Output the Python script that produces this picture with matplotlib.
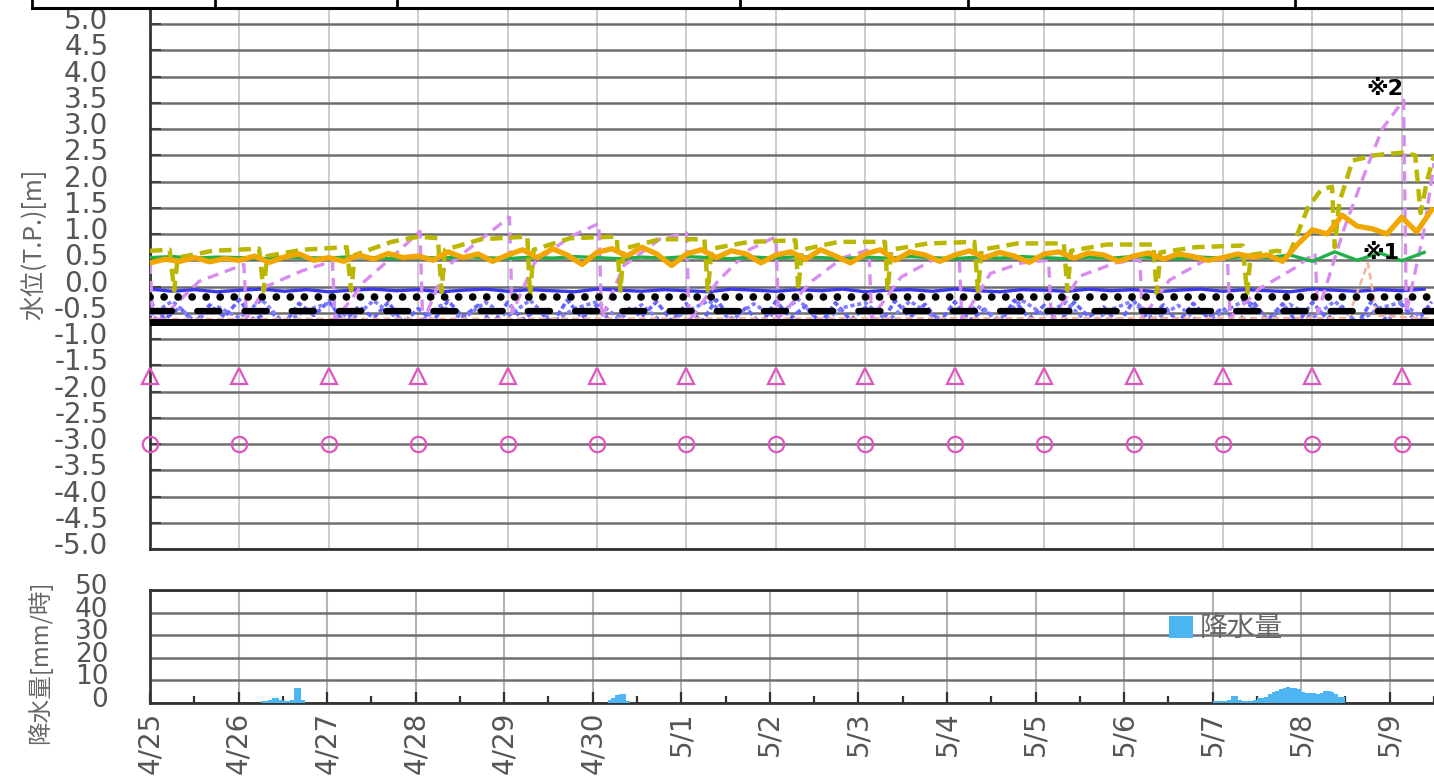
import numpy as np
import matplotlib
matplotlib.use('Agg')
import matplotlib.pyplot as plt
from matplotlib.lines import Line2D
import matplotlib.transforms as mtransforms

plt.rcParams['font.family'] = ['DejaVu Sans', 'Noto Sans CJK JP']
plt.rcParams['axes.unicode_minus'] = False
plt.rcParams['lines.scale_dashes'] = False
CJK = ['Noto Sans CJK JP', 'DejaVu Sans']

# x axis: days since 4/25 0:00
date_labels = ['4/25', '4/26', '4/27', '4/28', '4/29', '4/30', '5/1', '5/2',
               '5/3', '5/4', '5/5', '5/6', '5/7', '5/8', '5/9']
x_end = 14.36

# flat reference levels [m]
level_solid = -0.68
level_dashed = -0.47
level_dotted = -0.2
triangle_level = -1.7
circle_level = -3.0

# orange water level, every 4 hours
orange_v = [0.45, 0.52, 0.48, 0.55, 0.47, 0.53,
            0.50, 0.58, 0.46, 0.56, 0.62, 0.50,
            0.55, 0.48, 0.60, 0.52, 0.63, 0.55,
            0.58, 0.50, 0.66, 0.55, 0.62, 0.48,
            0.60, 0.70, 0.55, 0.72, 0.60, 0.42,
            0.65, 0.72, 0.58, 0.75, 0.62, 0.40,
            0.62, 0.70, 0.55, 0.68, 0.62, 0.45,
            0.60, 0.66, 0.52, 0.70, 0.58, 0.45,
            0.62, 0.70, 0.50, 0.66, 0.60, 0.48,
            0.60, 0.68, 0.55, 0.65, 0.58, 0.46,
            0.62, 0.66, 0.54, 0.64, 0.60, 0.48,
            0.58, 0.64, 0.52, 0.62, 0.57, 0.50,
            0.55, 0.62, 0.56, 0.60, 0.48, 0.80,
            1.08, 1.00, 1.36, 1.15, 1.10, 1.00,
            1.32, 1.04, 1.46]

# green water level, every 6 hours
green_v = [0.55, 0.57, 0.54, 0.56, 0.55, 0.53, 0.56, 0.55, 0.54, 0.57, 0.55, 0.53,
           0.56, 0.54, 0.57, 0.55, 0.53, 0.56, 0.54, 0.57, 0.55, 0.53, 0.56, 0.54,
           0.57, 0.55, 0.53, 0.56, 0.54, 0.57, 0.55, 0.53, 0.56, 0.54, 0.57, 0.55,
           0.53, 0.56, 0.54, 0.57, 0.55, 0.53, 0.56, 0.54, 0.57, 0.55, 0.53, 0.56,
           0.54, 0.57, 0.55, 0.60, 0.48, 0.66, 0.50, 0.64, 0.49, 0.65]

# blue water level, every 6 hours
blue_v = [-0.05, -0.09, -0.06, -0.10, -0.07, -0.05, -0.09, -0.06, -0.10, -0.07,
          -0.05, -0.08, -0.06, -0.10, -0.07, -0.05, -0.09, -0.06, -0.08, -0.10,
          -0.05, -0.07, -0.09, -0.06, -0.08, -0.10, -0.05, -0.07, -0.09, -0.06,
          -0.08, -0.05, -0.10, -0.07, -0.06, -0.09, -0.05, -0.08, -0.10, -0.06,
          -0.07, -0.09, -0.05, -0.08, -0.06, -0.10, -0.07, -0.05, -0.09, -0.06,
          -0.08, -0.10, -0.05, -0.07, -0.09, -0.06, -0.08, -0.05]

# light blue noisy levels (every 4 hours / every 6 hours)
lblue_v = [-0.30, -0.62, -0.40, -0.70, -0.35, -0.58,
           -0.25, -0.65, -0.45, -0.72, -0.32, -0.55,
           -0.28, -0.68, -0.38, -0.60, -0.30, -0.70,
           -0.42, -0.66, -0.27, -0.58, -0.36, -0.72,
           -0.30, -0.63, -0.44, -0.70, -0.26, -0.60,
           -0.35, -0.71, -0.40, -0.57, -0.29, -0.66,
           -0.33, -0.69, -0.25, -0.62, -0.41, -0.72,
           -0.28, -0.60, -0.37, -0.70, -0.31, -0.64,
           -0.40, -0.72, -0.27, -0.59, -0.34, -0.68,
           -0.29, -0.65, -0.43, -0.71, -0.26, -0.61,
           -0.36, -0.70, -0.30, -0.58, -0.39, -0.72,
           -0.27, -0.63, -0.35, -0.69, -0.32, -0.60,
           -0.41, -0.71, -0.28, -0.64, -0.33, -0.70,
           -0.30, -0.62, -0.38, -0.72, -0.27, -0.66,
           -0.34, -0.69, -0.29]
lblue2_v = [-0.55, -0.28, -0.66, -0.38, -0.60, -0.25, -0.70, -0.45, -0.32, -0.64,
            -0.27, -0.58, -0.71, -0.36, -0.62, -0.30, -0.57, -0.26, -0.68, -0.42,
            -0.29, -0.61, -0.35, -0.72, -0.48, -0.27, -0.65, -0.33, -0.59, -0.24,
            -0.70, -0.40, -0.31, -0.66, -0.28, -0.56, -0.69, -0.37, -0.63, -0.26,
            -0.54, -0.30, -0.71, -0.44, -0.27, -0.62, -0.36, -0.70, -0.50, -0.25,
            -0.66, -0.34, -0.60, -0.28, -0.69, -0.41, -0.30, -0.64]

# olive dashed level (daily drops)
olive_t = [0.0, 0.22, 0.27, 0.31, 0.7, 1.22, 1.27, 1.31, 1.7, 2.2, 2.25, 2.29, 2.7,
           3.0, 3.22, 3.26, 3.3, 3.7, 4.22, 4.25, 4.29, 4.7, 5.22, 5.26, 5.3, 5.7,
           6.2, 6.24, 6.28, 6.7, 7.22, 7.25, 7.29, 7.7, 8.22, 8.25, 8.29, 8.7,
           9.22, 9.26, 9.3, 9.7, 10.22, 10.26, 10.3, 10.7, 11.22, 11.26, 11.3, 11.7,
           12.22, 12.27, 12.31, 12.6, 12.75, 12.95, 13.1, 13.22, 13.25, 13.3, 13.45,
           13.7, 14.0, 14.15, 14.21, 14.28, 14.36]
olive_v = [0.68, 0.70, -0.08, 0.55, 0.68, 0.72, -0.08, 0.58, 0.70, 0.75, -0.08, 0.60, 0.85,
           0.95, 0.92, -0.10, 0.70, 0.90, 0.95, -0.20, 0.70, 0.92, 0.95, -0.08, 0.72, 0.90,
           0.90, -0.08, 0.72, 0.85, 0.88, -0.07, 0.70, 0.85, 0.85, -0.08, 0.70, 0.82,
           0.85, -0.08, 0.70, 0.82, 0.82, -0.08, 0.68, 0.80, 0.80, -0.13, 0.65, 0.75,
           0.78, -0.13, 0.60, 0.68, 0.65, 1.50, 1.85, 1.90, 0.75, 1.60, 2.40,
           2.50, 2.55, 2.50, 1.40, 2.00, 2.50]

# violet dashed level (sawtooth)
violet_t = [0.0, 0.03, 0.1, 0.55, 1.05, 1.08, 1.3, 1.7, 2.04, 2.07, 2.4, 2.7,
            3.02, 3.05, 3.3, 3.7, 4.02, 4.05, 4.3, 4.7, 5.02, 5.05, 5.3, 5.7,
            6.0, 6.03, 6.35, 6.7, 7.0, 7.03, 7.4, 7.75, 8.04, 8.07, 8.4, 8.75,
            9.05, 9.08, 9.4, 9.75, 10.05, 10.08, 10.4, 10.8, 11.07, 11.1, 11.4, 11.8,
            12.05, 12.08, 12.4, 12.8, 13.03, 13.06, 13.35, 13.55, 13.78, 14.02,
            14.05, 14.25, 14.36]
violet_v = [0.45, -0.55, -0.65, 0.10, 0.42, -0.60, 0.00, 0.30, 0.48, -0.65, 0.10, 0.55,
            1.05, -0.70, 0.35, 0.90, 1.32, -0.50, 0.45, 0.95, 1.20, -0.60, 0.40, 0.90,
            1.02, -0.65, 0.10, 0.70, 0.95, -0.60, 0.10, 0.55, 0.70, -0.60, 0.18, 0.50,
            0.58, -0.65, 0.25, 0.45, 0.50, -0.65, 0.20, 0.45, 0.52, -0.60, 0.12, 0.50,
            0.52, -0.60, -0.05, 0.35, 0.64, -0.50, 1.08, 2.00, 3.00, 3.55,
            -0.50, 1.08, 2.35]

# pale salmon level
salmon_t = [0.0, 13.4, 13.62, 13.72, 14.36]
salmon_v = [-0.62, -0.60, 0.45, -0.55, -0.62]

# rainfall [mm/h], hourly, segments starting at given hour since 4/25 0:00
rain_start_hours = [30, 124, 288]
rain_segments = [
    [1, 1, 1.5, 2, 2, 1.5, 1, 1, 1.5, 6.5, 6.5, 1.5],
    [1.5, 2, 3.5, 4, 4, 1],
    [1, 1, 1, 1, 1.5, 3, 3, 1.5, 1, 1, 1, 1.5, 2, 2, 2.5, 4, 5, 5.5, 6, 6.5,
     7, 6.5, 6.5, 6, 5, 4.5, 4.5, 4.5, 4.2, 4.5, 5.3, 5.3, 5, 4, 2.6, 2.6],
]

W, H = 1434, 778
fig = plt.figure(figsize=(W / 100, H / 100), dpi=100)
ax = fig.add_axes([150 / W, 1 - 549 / H, 1 - 150 / W, 540 / H])
ax2 = fig.add_axes([150 / W, 1 - 703 / H, 1 - 150 / W, 113 / H])

tick_color = '#555555'
days = np.arange(len(date_labels))

# ---- water level panel ----
ax.plot(np.arange(len(lblue_v)) / 6, lblue_v, color='#6464ff', lw=2.6,
        dashes=(4, 2), zorder=3)
ax.plot(np.arange(len(lblue2_v)) / 4, lblue2_v, color='#8080ff', lw=2.6,
        dashes=(3, 2), zorder=3)
ax.plot(np.arange(len(blue_v)) / 4, blue_v, color='#3a3ae8', lw=2.4, zorder=3)
ax.plot(salmon_t, salmon_v, color='#f5b4a0', lw=1.8, dashes=(5, 3), zorder=3)
ax.plot(violet_t, violet_v, color='#d98cf0', lw=2.4, dashes=(8, 5), zorder=4)
ax.plot(np.arange(len(green_v)) / 4, green_v, color='#20b048', lw=2.4, zorder=4)
ax.plot(olive_t, olive_v, color='#b9b700', lw=3.2, dashes=(9, 5), zorder=5)
ax.plot(np.arange(len(orange_v)) / 6, orange_v, color='#f2a600', lw=3.8, zorder=6)
ax.axhline(level_solid, color='black', lw=5, zorder=7)
ax.axhline(level_dashed, color='black', lw=4.5, dashes=(16, 18),
           dash_capstyle='round', zorder=7)
ax.axhline(level_dotted, color='black', lw=5.5, dashes=(0.1, 10),
           dash_capstyle='round', zorder=7)
ax.plot(days, [triangle_level] * len(days), ls='none', marker='^', ms=11,
        mfc='none', mec='#e055c0', mew=1.6, clip_on=False, zorder=8)
ax.plot(days, [circle_level] * len(days), ls='none', marker='o', ms=11,
        mfc='none', mec='#e055c0', mew=1.6, clip_on=False, zorder=8)

NOTE_FONT = ['DejaVu Sans', 'Noto Sans CJK JP']
ax.text(13.81, 3.76, '※2', fontsize=16, fontweight='bold', family=NOTE_FONT,
        ha='center', va='center', zorder=9)
ax.text(13.77, 0.64, '※1', fontsize=16, fontweight='bold', family=NOTE_FONT,
        ha='center', va='center', zorder=9)

ax.set_xlim(0, x_end)
ax.set_ylim(-5, 5.286)
ax.set_xticks(days)
ax.set_yticks(np.arange(-5, 5.01, 0.5))
ax.set_yticklabels([f'{v:.1f}' for v in np.arange(-5, 5.01, 0.5)])
ax.tick_params(axis='x', length=0, labelbottom=False)
ax.tick_params(axis='y', direction='in', length=8, width=1.5, color='#444444',
               pad=30, labelsize=20, labelcolor=tick_color)
ax.grid(axis='y', color='#6e6e6e', lw=1.8)
ax.grid(axis='x', color='#cccccc', lw=1.4)
ax.set_axisbelow(True)
for s in ['top', 'right']:
    ax.spines[s].set_visible(False)
for s in ['left', 'bottom']:
    ax.spines[s].set_color('#333333')
    ax.spines[s].set_linewidth(2)

# ---- rainfall panel ----
for start, seg in zip(rain_start_hours, rain_segments):
    hrs = (start + np.arange(len(seg))) / 24
    ax2.bar(hrs, seg, width=1 / 24, align='edge', color='#4db6f2', lw=0,
            zorder=3, label='降水量' if start == rain_start_hours[0] else None)
ax2.set_xlim(0, x_end)
ax2.set_ylim(0, 50)
ax2.set_yticks([0, 10, 20, 30, 40, 50])
ax2.set_xticks(days)
ax2.set_xticks(days + 0.5, minor=True)
ax2.set_xticklabels(date_labels, rotation=90)
ax2.tick_params(axis='x', which='major', direction='in', length=8, width=1.6,
                color='#333333', pad=6, labelsize=20, labelcolor=tick_color)
ax2.tick_params(axis='x', which='minor', direction='in', length=5, width=1.6,
                color='#333333')
ax2.tick_params(axis='y', direction='in', length=0, pad=30, labelsize=19,
                labelcolor=tick_color)
ax2.grid(axis='y', color='#6e6e6e', lw=1.8)
ax2.grid(axis='x', color='#b4b4b4', lw=1.5)
ax2.set_axisbelow(True)
ax2.spines['right'].set_visible(False)
for s in ['left', 'bottom', 'top']:
    ax2.spines[s].set_color('#333333')
    ax2.spines[s].set_linewidth(2)
ax2.legend(loc='center left', bbox_to_anchor=(0.785, 0.66), frameon=False,
           handlelength=0.85, handleheight=0.85, handletextpad=0.25,
           borderaxespad=0, labelcolor='#666666',
           prop={'family': CJK, 'size': 20})

# shift y tick labels a little upward as in the source
up = mtransforms.ScaledTranslation(0, 6 / 100, fig.dpi_scale_trans)
for a in (ax, ax2):
    for lab in a.get_yticklabels():
        lab.set_transform(lab.get_transform() + up)

fig.text(34 / W, 1 - 244 / H, '水位(T.P.)[m]', rotation=90, ha='center',
         va='center', fontsize=18, color='#666666', family=CJK)
fig.text(40 / W, 1 - 662 / H, '降水量[mm/時]', rotation=90, ha='center',
         va='center', fontsize=17, color='#666666', family=CJK)

# cropped table border at the top of the picture
fig.add_artist(Line2D([32 / W, 1], [1 - 8 / H, 1 - 8 / H], color='black', lw=2.2))
for xp in [32, 215, 397, 740, 968, 1295]:
    fig.add_artist(Line2D([xp / W, xp / W], [1, 1 - 8 / H], color='black', lw=2))

fig.savefig('out.png', dpi=100)
